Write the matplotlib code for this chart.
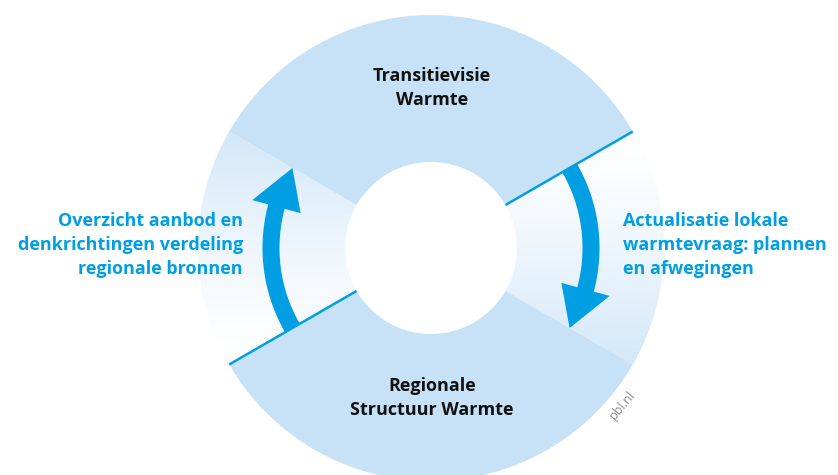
"""Cyclusdiagram warmte: transitievisie <-> regionale structuur."""
import numpy as np
import matplotlib
matplotlib.use("Agg")
import matplotlib.pyplot as plt
from matplotlib.patches import Wedge, Polygon

# --- inhoud ---
fase_labels = ["Transitievisie\nWarmte", "Regionale\nStructuur Warmte"]
fase_hoeken = [(30, 150), (210, 330)]          # graden, blokken in de ring
stap_labels = ["Overzicht aanbod en\ndenkrichtingen verdeling\nregionale bronnen",
               "Actualisatie lokale\nwarmtevraag: plannen\nen afwegingen"]
stap_hoeken = [(150, 210), (-30, 30)]          # graden, overgangssegmenten
pijl_van_tot = [(210, 150), (30, -30)]         # start- en eindhoek van de pijlen
scheidingslijnen = [30, 210]
bron = "pbl.nl"

R_OUT, R_IN = 233, 86
R_PIJL, PIJL_W = 160, 17
KOP_W, KOP_HOEK = 50, 15

LICHTBLAUW = "#c7e2f7"
BLAUW = "#009fe3"

W, H = 838, 475
cx, cy = 431, 248

fig = plt.figure(figsize=(W / 100, H / 100), dpi=100)
ax = fig.add_axes([0, 0, 1, 1])
ax.set_xlim(-cx, W - cx)
ax.set_ylim(-(H - cy), cy)
ax.set_aspect("equal")
ax.axis("off")

# vaste blokken
for t1, t2 in fase_hoeken:
    ax.add_patch(Wedge((0, 0), R_OUT, t1, t2, width=R_OUT - R_IN,
                       facecolor=LICHTBLAUW, edgecolor="none", zorder=1))

# overgangssegmenten met verloop (wit -> blauw in pijlrichting)
base = np.array(matplotlib.colors.to_rgb(LICHTBLAUW))
ys = np.linspace(-R_OUT, R_OUT, 400)
for (t1, t2), (a0, a1) in zip(stap_hoeken, pijl_van_tot):
    y_start = R_OUT * np.sin(np.radians(a0))
    y_eind = R_OUT * np.sin(np.radians(a1))
    t = np.clip((ys - y_start) / (y_eind - y_start), 0, 1) ** 1.4 * 0.8
    rgb = 1 - t[:, None] * (1 - base[None, :])
    img = np.repeat(rgb[:, None, :], 2, axis=1)
    clip = Wedge((0, 0), R_OUT, t1, t2, width=R_OUT - R_IN,
                 facecolor="none", edgecolor="none", transform=ax.transData)
    im = ax.imshow(img, extent=(-R_OUT, R_OUT, -R_OUT, R_OUT), origin="lower",
                   aspect="auto", interpolation="bilinear", zorder=0.5)
    im.set_clip_path(clip)

# scheidingslijnen
for a in scheidingslijnen:
    c, s = np.cos(np.radians(a)), np.sin(np.radians(a))
    ax.plot([R_IN * c, R_OUT * c], [R_IN * s, R_OUT * s], color=BLAUW,
            lw=1.8, solid_capstyle="butt", zorder=3)


def pijl(a0, a1):
    richting = np.sign(a1 - a0)
    a_kop = a1 - richting * KOP_HOEK
    hoek = np.radians(np.linspace(a0, a_kop, 60))
    r1, r2 = R_PIJL - PIJL_W / 2, R_PIJL + PIJL_W / 2
    buiten = np.c_[r2 * np.cos(hoek), r2 * np.sin(hoek)]
    binnen = np.c_[r1 * np.cos(hoek), r1 * np.sin(hoek)][::-1]
    ak = np.radians(a_kop)
    u = np.array([np.cos(ak), np.sin(ak)])
    kop = [(R_PIJL + PIJL_W / 2) * u, (R_PIJL + KOP_W / 2) * u,
           R_PIJL * np.array([np.cos(np.radians(a1)), np.sin(np.radians(a1))]),
           (R_PIJL - KOP_W / 2) * u, (R_PIJL - PIJL_W / 2) * u]
    pts = np.vstack([buiten, kop, binnen])
    ax.add_patch(Polygon(pts, closed=True, facecolor=BLAUW, edgecolor="none", zorder=4))


for a0, a1 in pijl_van_tot:
    pijl(a0, a1)

font = "Open Sans"
ax.text(1, 160, fase_labels[0], ha="center", va="center", fontsize=13,
        fontweight="bold", family=font, color="#111111", linespacing=1.45, zorder=5)
ax.text(1, -150, fase_labels[1], ha="center", va="center", fontsize=13,
        fontweight="bold", family=font, color="#111111", linespacing=1.45, zorder=5)
ax.text(-188, 3, stap_labels[0], ha="right", va="center", fontsize=13,
        fontweight="bold", family=font, color=BLAUW, linespacing=1.4, zorder=5)
ax.text(192, 3, stap_labels[1], ha="left", va="center", fontsize=13,
        fontweight="bold", family=font, color=BLAUW, linespacing=1.4, zorder=5)
ax.text(192, -157, bron, ha="center", va="center", fontsize=9, rotation=50,
        family=font, color="#8a8a8a", zorder=5)

fig.savefig("out.png", dpi=100)
